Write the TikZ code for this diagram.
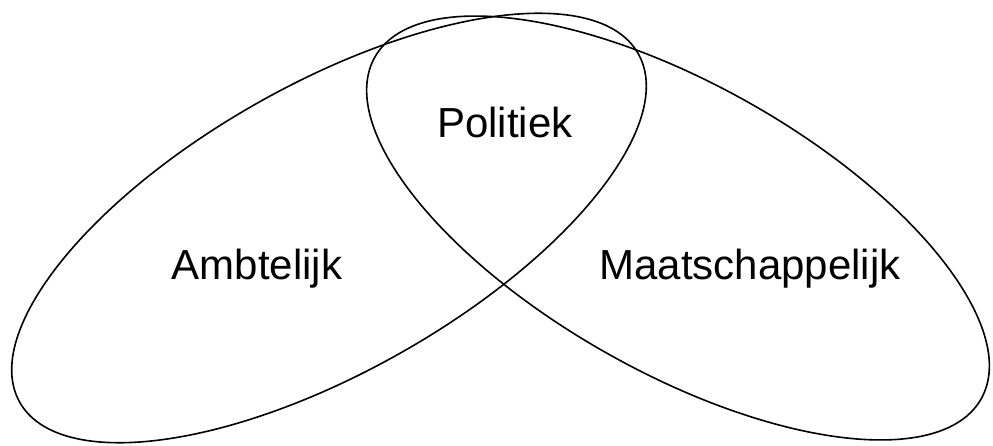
\documentclass[tikz,border=0pt]{standalone}
\usepackage{fontspec}
\setmainfont{Liberation Sans}
\begin{document}
\begin{tikzpicture}[x=1pt,y=1pt,
  lobe/.style={draw=black,line width=1.6pt},
  lbl/.style={anchor=base,inner sep=0pt,font=\fontsize{42}{50}\selectfont}]
\useasboundingbox (0,0) rectangle (993,445);
\draw[lobe,rotate around={29.4:(329,217)}] (329,217) ellipse [x radius=355,y radius=144];
\draw[lobe,rotate around={-29.4:(678,217)}] (678,217) ellipse [x radius=348,y radius=144];
\node[lbl] (pol) at (505,307) {Politiek};
\node[lbl] (amb) at (257,166) {Ambtelijk};
\node[lbl] (maa) at (750,166) {Maatschappelijk};
\end{tikzpicture}
\end{document}
